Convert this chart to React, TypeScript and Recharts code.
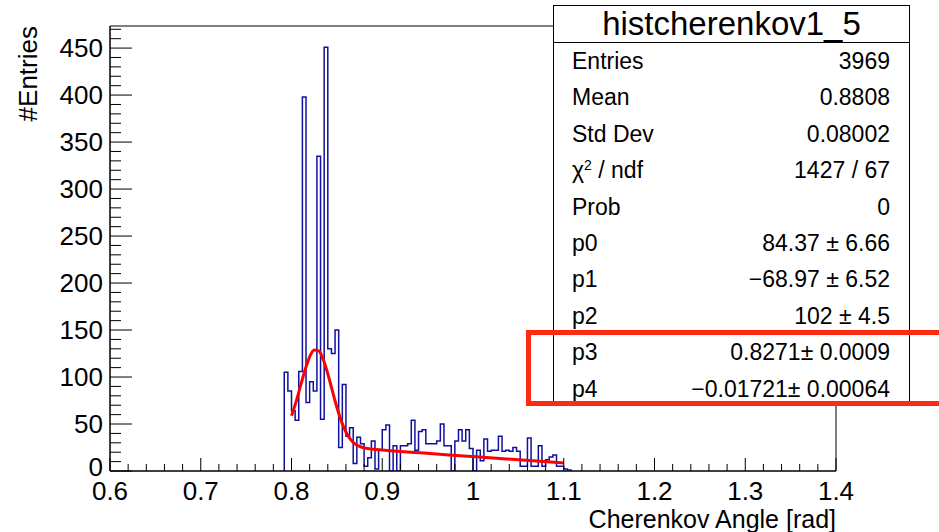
import React from 'react';
import { ComposedChart, Line, XAxis, YAxis, ReferenceArea } from 'recharts';

// histogram definition (bins of 0.004 starting at 0.792)
const BIN_START = 0.792;
const BIN_WIDTH = 0.004;
const binCounts = [
  105, 85, 64, 54, 106, 398, 73, 95, 85, 335,
  55, 451, 130, 125, 150, 25, 92, 37, 46, 8,
  36, 29, 5, 14, 32, 2, 22, 44, 49, 0,
  27, 0, 27, 27, 29, 54, 22, 42, 44, 29,
  29, 29, 32, 50, 27, 27, 0, 32, 44, 32,
  44, 24, 0, 22, 11, 34, 21, 22, 22, 37,
  21, 22, 21, 25, 21, 5, 5, 35, 5, 5,
  27, 5, 12, 15, 17, 5, 5, 2, 1,
];

// fitted pol1 + gaus curve
const fitX = [0.8, 0.805, 0.81, 0.815, 0.82, 0.825, 0.83, 0.835, 0.84, 0.845, 0.85, 0.855, 0.86, 0.865, 0.87, 0.875, 0.88, 0.89, 0.9, 1.0, 1.1];
const fitY = [58.7, 73.6, 90.8, 107.8, 121.5, 128.7, 127.7, 118.6, 103.4, 85.5, 67.8, 52.8, 41.5, 33.7, 28.9, 26.1, 24.6, 23.1, 22.3, 15.4, 8.5];

const xMajorTicks = [0.6, 0.7, 0.8, 0.9, 1.0, 1.1, 1.2, 1.3, 1.4];
const xTickLabels = ['0.6', '0.7', '0.8', '0.9', '1', '1.1', '1.2', '1.3', '1.4'];
const yMajorTicks = [0, 50, 100, 150, 200, 250, 300, 350, 400, 450];
const yTickLabels = ['0', '50', '100', '150', '200', '250', '300', '350', '400', '450'];

const statsTitle = 'histcherenkov1_5';
const statsLabels = ['Entries', 'Mean', 'Std Dev', 'chi2', 'Prob', 'p0', 'p1', 'p2', 'p3', 'p4'];
const statsValues = ['3969', '0.8808', '0.08002', '1427 / 67', '0', '84.37 ± 6.66', '−68.97 ± 6.52', '102 ± 4.5', '0.8271± 0.0009', '−0.01721± 0.00064'];

const FONT = '"Liberation Sans", Arial, Helvetica, sans-serif';
const Y_MAX = 473.5;

const xTicksAll: number[] = [];
for (let i = 0; i <= 40; i++) xTicksAll.push(Math.round((0.6 + i * 0.02) * 1000) / 1000);
const yTicksAll: number[] = [];
for (let v = 0; v <= 470; v += 10) yTicksAll.push(v);

const histData = [
  { x: BIN_START, y: 0 },
  ...binCounts.map((c, i) => ({ x: Math.round((BIN_START + i * BIN_WIDTH) * 1000) / 1000, y: c })),
  { x: Math.round((BIN_START + binCounts.length * BIN_WIDTH) * 1000) / 1000, y: 0 },
];
const fitData = fitX.map((x, i) => ({ x, y: fitY[i] }));

const XTick = (props: any) => {
  const { x, y, payload } = props;
  const idx = xMajorTicks.findIndex((t) => Math.abs(t - payload.value) < 1e-6);
  const major = idx >= 0;
  return (
    <g>
      <line x1={x} x2={x} y1={y} y2={y - (major ? 13 : 7)} stroke="#000" strokeWidth={1} />
      {major && (
        <text x={x} y={y + 29} textAnchor="middle" fontSize={26} fontFamily={FONT} fill="#000">
          {xTickLabels[idx]}
        </text>
      )}
    </g>
  );
};

const YTick = (props: any) => {
  const { x, y, payload } = props;
  const idx = yMajorTicks.indexOf(payload.value);
  const major = idx >= 0;
  // the bottom "0" sits just above the "0.6" of the x axis
  const dy = payload.value === 0 ? 5 : 9;
  return (
    <g>
      <line x1={x} x2={x + (major ? 22 : 11)} y1={y} y2={y} stroke="#000" strokeWidth={1} />
      {major && (
        <text x={x - 7} y={y + dy} textAnchor="end" fontSize={26} fontFamily={FONT} fill="#000">
          {yTickLabels[idx]}
        </text>
      )}
    </g>
  );
};

function StatsBox() {
  const rowH = 36.4;
  return (
    <div
      style={{
        position: 'absolute', left: 553, top: 5, width: 357, height: 400,
        border: '1px solid #000', background: '#fff', fontFamily: FONT, color: '#000',
        boxSizing: 'border-box',
      }}
    >
      <div style={{ height: 36, borderBottom: '1px solid #000', textAlign: 'center', fontSize: 33, lineHeight: '36px' }}>
        {statsTitle}
      </div>
      {statsLabels.map((label, i) => (
        <div key={label} style={{ position: 'relative', height: rowH, lineHeight: `${rowH}px`, fontSize: 23 }}>
          <span style={{ position: 'absolute', left: 18 }}>
            {label === 'chi2' ? (<>χ<sup style={{ fontSize: 14, verticalAlign: 'top', lineHeight: '26px' }}>2</sup> / ndf</>) : label}
          </span>
          <span style={{ position: 'absolute', right: 19 }}>{statsValues[i]}</span>
        </div>
      ))}
    </div>
  );
}

export default function App() {
  return (
    <div style={{ position: 'absolute', left: 0, top: 0, width: 939, height: 532, background: '#fff', overflow: 'hidden' }}>
      <ComposedChart width={939} height={532} margin={{ top: 26, right: 103, bottom: 0, left: 60 }}>
        <XAxis
          dataKey="x" type="number" domain={[0.6, 1.4]} allowDataOverflow
          ticks={xTicksAll} interval={0} tick={<XTick />} tickLine={false}
          tickSize={0} tickMargin={0} height={61} axisLine={{ stroke: '#000' }}
        />
        <YAxis
          type="number" domain={[0, Y_MAX]} allowDataOverflow
          ticks={yTicksAll} interval={0} tick={<YTick />} tickLine={false}
          tickSize={0} tickMargin={0} width={50} axisLine={{ stroke: '#000' }}
        />
        <ReferenceArea x1={0.6} x2={1.4} y1={0} y2={Y_MAX} fill="none" fillOpacity={0} stroke="#000" strokeWidth={1} />
        <Line data={histData} dataKey="y" type="stepAfter" stroke="#1010a0" strokeWidth={1.5} dot={false} isAnimationActive={false} />
        <Line data={fitData} dataKey="y" type="monotone" stroke="#ff0000" strokeWidth={3} dot={false} isAnimationActive={false} />
        <text x={28} y={26} transform="rotate(-90 28 26)" dy={9} textAnchor="end" fontSize={26} fontFamily={FONT} fill="#000">#Entries</text>
        <text x={836} y={528} textAnchor="end" fontSize={25} fontFamily={FONT} fill="#000">Cherenkov Angle [rad]</text>
      </ComposedChart>
      <StatsBox />
      <div style={{ position: 'absolute', left: 526, top: 330, width: 430, height: 76, border: '5px solid #ff2a12', boxSizing: 'border-box' }} />
    </div>
  );
}
